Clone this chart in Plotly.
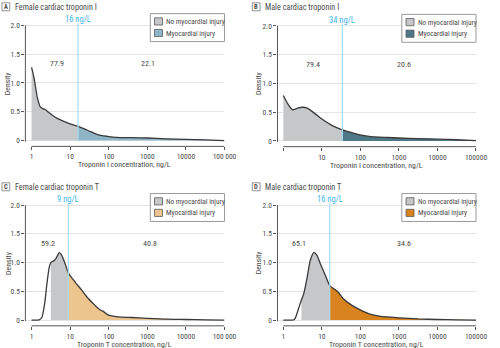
import numpy as np
import plotly.graph_objects as go

# ---- data: kernel density of troponin concentration (ng/L) ----
# A: female cardiac troponin I
conc_a = [1, 1.15, 1.41, 1.7, 2.0, 2.3, 2.75, 4.1, 6.0, 10, 16, 29, 51, 91, 158, 400, 1000, 3160, 10000, 31600, 100000]
dens_a = [1.27, 1.10, 0.75, 0.58, 0.55, 0.535, 0.49, 0.405, 0.35, 0.29, 0.245, 0.175, 0.105, 0.075, 0.055, 0.05, 0.045, 0.03, 0.022, 0.012, 0.0]

# B: male cardiac troponin I
conc_b = [1, 1.32, 1.74, 2.34, 3.16, 4.17, 6.76, 10, 18.2, 34, 59, 105, 186, 500, 1000, 3160, 10000, 31600, 100000]
dens_b = [0.79, 0.64, 0.54, 0.57, 0.585, 0.57, 0.47, 0.38, 0.27, 0.19, 0.145, 0.10, 0.075, 0.06, 0.05, 0.04, 0.03, 0.02, 0.005]

# C: female cardiac troponin T
conc_c = [1, 1.58, 1.86, 2.19, 2.51, 2.88, 3.16, 3.72, 4.27, 5.25, 6.03, 7.41, 9, 13.5, 20, 29.5, 43.7, 59, 71, 95, 174, 400, 1000, 3160, 10000, 31600, 100000]
dens_c = [0.0, 0.005, 0.05, 0.29, 0.64, 0.92, 1.0, 1.03, 1.07, 1.175, 1.13, 0.98, 0.82, 0.66, 0.52, 0.375, 0.26, 0.18, 0.155, 0.09, 0.055, 0.045, 0.03, 0.015, 0.01, 0.005, 0.0]

# D: male cardiac troponin T
conc_d = [1, 1.9, 2.09, 2.57, 2.95, 3.39, 4.17, 5.0, 6.17, 7.41, 9.12, 12.3, 16, 21.9, 26.3, 35.5, 59, 105, 186, 339, 1000, 3160, 10000, 31600, 100000]
dens_d = [0.0, 0.005, 0.05, 0.23, 0.35, 0.46, 0.75, 1.04, 1.175, 1.13, 0.98, 0.78, 0.60, 0.53, 0.49, 0.375, 0.26, 0.17, 0.10, 0.065, 0.04, 0.02, 0.01, 0.005, 0.0]

panel_letters = ["A", "B", "C", "D"]
panel_titles = ["Female cardiac troponin I", "Male cardiac troponin I",
                "Female cardiac troponin T", "Male cardiac troponin T"]
thresholds = [16, 34, 9, 16]          # ng/L cut-off for myocardial injury
shade_start = [1, 1, 3.16, 2.95]      # lower end of the shaded region
pct_below = ["77.9", "79.4", "59.2", "65.1"]
pct_above = ["22.1", "20.6", "40.8", "34.6"]
pct_below_x = [4.5, 5.9, 2.6, 2.6]
pct_above_x = [1050, 1380, 1180, 1380]
x_titles = ["Troponin I concentration, ng/L", "Troponin I concentration, ng/L",
            "Troponin T concentration, ng/L", "Troponin T concentration, ng/L"]
legend_labels = ["No myocardial injury", "Myocardial injury"]
x_tickvals = [1, 10, 100, 1000, 10000, 100000]
x_ticktext = [["1", "10", "100", "1000", "10000", "100\u2009000"],
              ["", "10", "100", "1000", "10000", "100000"],
              ["1", "10", "100", "1000", "10000", "100\u2009000"],
              ["1", "10", "100", "1000", "10000", "100000"]]
y_tickvals = [0, 0.5, 1.0, 1.5, 2.0]
y_ticktext = ["0", "0.5", "1.0", "1.5", "2.0"]

series = [(conc_a, dens_a), (conc_b, dens_b), (conc_c, dens_c), (conc_d, dens_d)]

# ---- styling ----
FONT = "Liberation Sans Narrow, Roboto Condensed, Roboto, sans-serif"
GRAY_FILL = "#c6c7c9"
INJ_FILL = ["#8fb4c5", "#4f7886", "#ecc48e", "#d9831e"]
LINE_COL = "#3a3a3a"
CUT_LINE = "#a6dcf3"
CUT_TEXT = "#3fb6e8"
TXT = "#4a4a4a"
W, H = 500, 348

# panel geometry in pixels: (left axis x, right end x, y of zero line)
Y_MIN, Y_MAX = -0.1, 2.05
CUT_TOP = 2.03
geom = [
    dict(left=26.0, right=230.0, x_lo=-0.16, zero=140.0, unit=57.85, ox=0, oy=0),
    dict(left=284.3, right=487.7, x_lo=-0.152, zero=140.3, unit=57.65, ox=256.5, oy=0),
    dict(left=26.0, right=230.0, x_lo=-0.16, zero=320.0, unit=57.65, ox=0, oy=180.5),
    dict(left=284.3, right=487.7, x_lo=-0.152, zero=320.0, unit=57.65, ox=256.5, oy=180.5),
]


def px(x):
    return x / W


def py(y):
    return 1 - y / H


fig = go.Figure()
shapes = []
annotations = []

for i, (conc, dens) in enumerate(series):
    g = geom[i]
    xa = "x" if i == 0 else f"x{i + 1}"
    ya = "y" if i == 0 else f"y{i + 1}"
    conc = np.asarray(conc, dtype=float)
    dens = np.asarray(dens, dtype=float)
    thr = thresholds[i]

    low = (conc >= shade_start[i] - 1e-9) & (conc <= thr + 1e-9)
    high = conc >= thr - 1e-9
    fig.add_trace(go.Scatter(x=conc[low], y=dens[low], xaxis=xa, yaxis=ya, mode="lines",
                             line=dict(width=0, shape="spline", smoothing=0.6),
                             fill="tozeroy", fillcolor=GRAY_FILL, showlegend=False,
                             hoverinfo="skip"))
    fig.add_trace(go.Scatter(x=conc[high], y=dens[high], xaxis=xa, yaxis=ya, mode="lines",
                             line=dict(width=0, shape="spline", smoothing=0.6),
                             fill="tozeroy", fillcolor=INJ_FILL[i], showlegend=False,
                             hoverinfo="skip"))
    fig.add_trace(go.Scatter(x=conc, y=dens, xaxis=xa, yaxis=ya, mode="lines",
                             line=dict(width=1.3, color=LINE_COL, shape="spline", smoothing=0.6),
                             showlegend=False))

    # axes
    bottom = g["zero"] - Y_MIN * g["unit"]
    top = g["zero"] - Y_MAX * g["unit"]
    axis_common = dict(showline=False, zeroline=False, ticks="outside", ticklen=3,
                       tickcolor="#555", tickwidth=1,
                       tickfont=dict(family=FONT, size=7.5, color=TXT))
    fig.update_layout(**{
        ("xaxis" if i == 0 else f"xaxis{i + 1}"): dict(
            type="log", domain=[px(g["left"]), px(g["right"])],
            range=[g["x_lo"], 5.0], anchor=ya, showgrid=False,
            tickvals=x_tickvals, ticktext=x_ticktext[i], **axis_common),
        ("yaxis" if i == 0 else f"yaxis{i + 1}"): dict(
            domain=[py(bottom), py(top)], range=[Y_MIN, Y_MAX], anchor=xa,
            showgrid=True, gridcolor="#e4e4e4", gridwidth=1,
            tickvals=y_tickvals, ticktext=y_ticktext, **axis_common),
    })

    # detached axis lines
    shapes.append(dict(type="line", xref=f"{xa} domain", yref=ya, x0=0, x1=0, y0=-0.02, y1=2.0,
                       line=dict(color="#555", width=1)))
    shapes.append(dict(type="line", xref=xa, yref=f"{ya} domain", x0=x_tickvals[0],
                       x1=x_tickvals[-1], y0=0, y1=0, line=dict(color="#555", width=1)))

    # cut-off line and label
    shapes.append(dict(type="line", xref=xa, yref=ya, x0=thr, x1=thr,
                       y0=0, y1=CUT_TOP, line=dict(color=CUT_LINE, width=1.2), layer="above"))
    annotations.append(dict(xref=xa, yref="paper", x=np.log10(thr), y=py(top - 3.2),
                            text=f"{thr} ng/L", showarrow=False, xanchor="center",
                            yanchor="middle", font=dict(family=FONT, size=8.5, color=CUT_TEXT)))

    # percentages
    for xv, txt in ((pct_below_x[i], pct_below[i]), (pct_above_x[i], pct_above[i])):
        annotations.append(dict(xref=xa, yref=ya, x=np.log10(xv), y=1.33, text=txt,
                                showarrow=False, xanchor="center", yanchor="middle",
                                font=dict(family=FONT, size=8, color=TXT)))

    # axis titles
    annotations.append(dict(xref="paper", yref="paper", x=px((g["left"] + g["right"]) / 2),
                            y=py(bottom + 18.5), text=x_titles[i], showarrow=False,
                            xanchor="center", yanchor="middle",
                            font=dict(family=FONT, size=7.8, color=TXT)))
    annotations.append(dict(xref="paper", yref="paper", x=px(g["ox"] + 8.5),
                            y=py(g["zero"] - 1.0 * g["unit"]), text="Density", textangle=-90,
                            showarrow=False, xanchor="center", yanchor="middle",
                            font=dict(family=FONT, size=7.8, color=TXT)))

    # panel letter box and title
    lx, ly = g["ox"] + 2, g["oy"] + 1.8
    shapes.append(dict(type="rect", xref="paper", yref="paper", x0=px(lx), x1=px(lx + 8),
                       y0=py(ly), y1=py(ly + 8), line=dict(color="#777", width=0.8),
                       fillcolor="white"))
    annotations.append(dict(xref="paper", yref="paper", x=px(lx + 4), y=py(ly + 4),
                            text=f"<b>{panel_letters[i]}</b>", showarrow=False,
                            xanchor="center", yanchor="middle",
                            font=dict(family=FONT, size=6.5, color=TXT)))
    annotations.append(dict(xref="paper", yref="paper", x=px(g["ox"] + 13), y=py(ly + 4),
                            text=panel_titles[i], showarrow=False, xanchor="left",
                            yanchor="middle", font=dict(family=FONT, size=8.2, color=TXT)))

    # legend box
    R = g["right"]
    T = g["zero"] - 2.0 * g["unit"]
    shapes.append(dict(type="rect", xref="paper", yref="paper", x0=px(R - 76), x1=px(R),
                       y0=py(T - 11.6), y1=py(T + 16.4), line=dict(color="#9a9a9a", width=1),
                       fillcolor="white", layer="above"))
    for k, (col, dy) in enumerate([(GRAY_FILL, -7.4), (INJ_FILL[i], 4.2)]):
        shapes.append(dict(type="rect", xref="paper", yref="paper", x0=px(R - 71.7),
                           x1=px(R - 63.5), y0=py(T + dy), y1=py(T + dy + 7.2),
                           line=dict(color="#5a5a5a", width=0.8), fillcolor=col, layer="above"))
        annotations.append(dict(xref="paper", yref="paper", x=px(R - 61.5),
                                y=py(T + dy + 3.6), text=legend_labels[k], showarrow=False,
                                xanchor="left", yanchor="middle",
                                font=dict(family=FONT, size=7.3, color=TXT)))

fig.update_layout(width=W, height=H, margin=dict(l=0, r=0, t=0, b=0),
                  paper_bgcolor="white", plot_bgcolor="white",
                  shapes=shapes, annotations=annotations, showlegend=False)

fig.write_html("out.html")
